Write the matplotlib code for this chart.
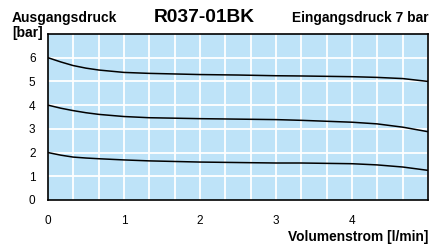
import matplotlib
matplotlib.use("Agg")
import matplotlib.pyplot as plt
import numpy as np

flow = [0, 0.17, 0.33, 0.5, 0.67, 1.0, 1.33, 2.0, 2.5, 3.0, 3.33, 4.0, 4.33, 4.67, 5.0]
p_high = [6.0, 5.82, 5.67, 5.56, 5.48, 5.38, 5.34, 5.29, 5.27, 5.24, 5.23, 5.20, 5.17, 5.12, 5.0]
p_mid = [4.0, 3.87, 3.77, 3.68, 3.61, 3.52, 3.47, 3.43, 3.41, 3.39, 3.36, 3.28, 3.21, 3.07, 2.88]
p_low = [2.0, 1.89, 1.81, 1.77, 1.74, 1.69, 1.65, 1.60, 1.58, 1.56, 1.56, 1.53, 1.48, 1.39, 1.25]
xticks = [0, 1, 2, 3, 4]
yticks = [0, 1, 2, 3, 4, 5, 6]

plt.rcParams['font.family'] = ['Liberation Sans', 'DejaVu Sans']

fig = plt.figure(figsize=(4.38, 2.48), dpi=100)
ax = fig.add_axes([48/438, 48/248, 380/438, 166/248])
ax.set_facecolor('#BEE3F8')
ax.set_xlim(0, 5)
ax.set_ylim(0, 7)

for v in np.arange(1/3, 5, 1/3):
    ax.axvline(v, color='white', lw=1.3, zorder=1)
for v in range(1, 7):
    ax.axhline(v, color='white', lw=1.3, zorder=1)

for s in (p_high, p_mid, p_low):
    ax.plot(flow, s, color='black', lw=1.1, zorder=3, solid_capstyle='butt')

ax.set_xticks(xticks)
ax.set_yticks(yticks)
ax.tick_params(length=0, labelsize=8.5)
ax.tick_params(axis='x', pad=11)
ax.tick_params(axis='y', pad=9)
for sp in ax.spines.values():
    sp.set_linewidth(1.2)
    sp.set_color('black')

fig.text(12/438, 1 - 18/248, 'Ausgangsdruck', fontsize=10, fontweight='bold', va='center', ha='left')
fig.text(12/438, 1 - 33/248, '[bar]', fontsize=10, fontweight='bold', va='center', ha='left')
fig.text(204/438, 1 - 17/248, 'R037-01BK', fontsize=13.8, fontweight='bold', va='center', ha='center')
fig.text(428/438, 1 - 18/248, 'Eingangsdruck 7 bar', fontsize=9.9, fontweight='bold', va='center', ha='right')
fig.text(428/438, 1 - 237/248, 'Volumenstrom [l/min]', fontsize=9.9, fontweight='bold', va='center', ha='right')

fig.savefig('out.png', dpi=100)
